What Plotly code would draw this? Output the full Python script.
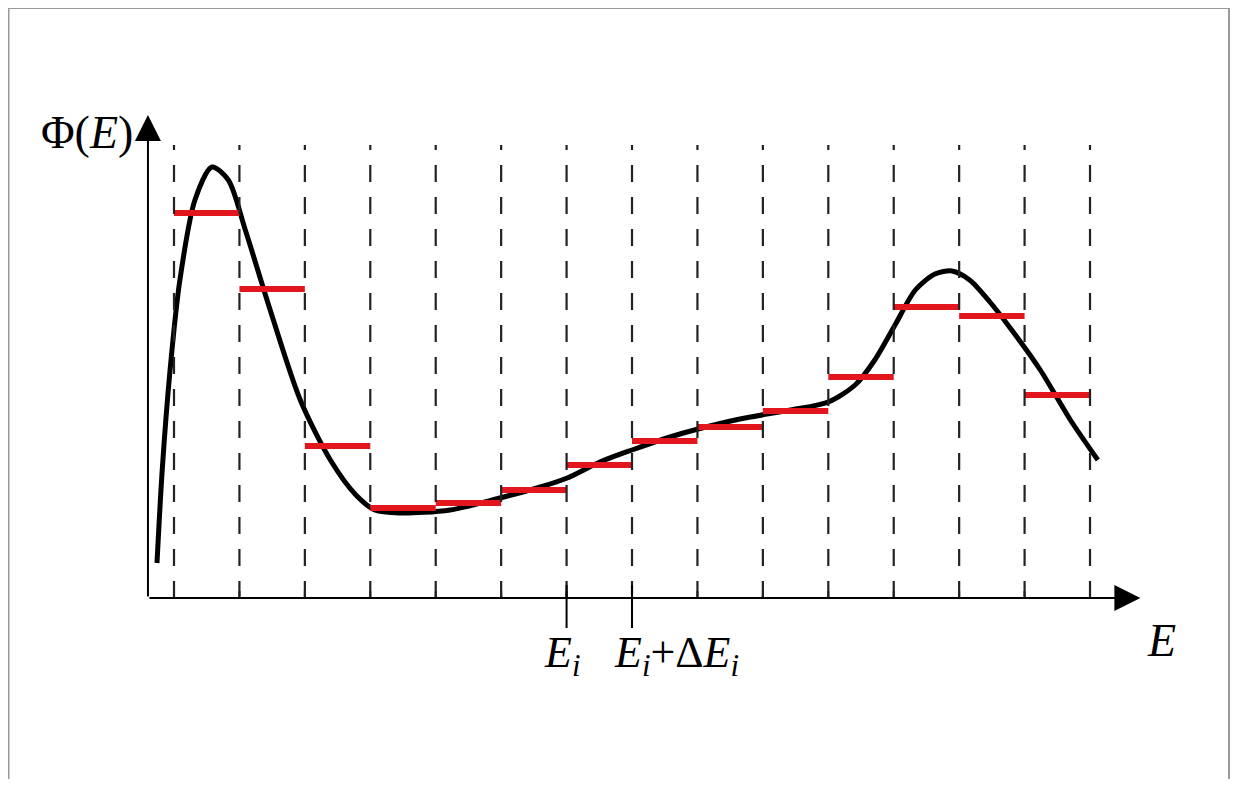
import plotly.graph_objects as go

# ---- data (x in bin units, y in arbitrary flux units) ----
bin_edges = list(range(0, 15))                      # 15 dashed boundaries
bin_levels = [3.85, 3.09, 1.52, 0.90, 0.95, 1.08, 1.33, 1.57, 1.71, 1.87, 2.21, 2.91, 2.82, 2.03]
curve_x = [-0.26, -0.18, -0.06, 0.09, 0.32, 0.58, 0.83, 1.09, 1.47, 1.93, 2.39, 2.78, 3.07, 3.45,
           4.22, 4.98, 5.60, 6.01, 6.51, 7.00, 7.58, 8.01, 8.65, 9.42, 10.00, 10.41, 10.71, 11.02,
           11.33, 11.63, 11.89, 12.16, 12.47, 12.78, 13.24, 13.70, 14.12]
curve_y = [0.35, 1.28, 2.28, 3.18, 3.98, 4.31, 4.18, 3.68, 2.88, 1.98, 1.38, 1.03, 0.88, 0.85,
           0.88, 1.00, 1.11, 1.20, 1.36, 1.48, 1.61, 1.69, 1.79, 1.88, 1.96, 2.13, 2.38, 2.73,
           3.08, 3.24, 3.27, 3.18, 2.96, 2.70, 2.28, 1.78, 1.38]
ei_index = 6
y_label = "Φ(<i>E</i>)"
x_label = "<i>E</i>"
tick_labels = ["<i>E<sub>i</sub></i>", "<i>E<sub>i</sub></i>+Δ<i>E<sub>i</sub></i>"]

# the page body has an 8px margin, so the figure is sized to fit inside the window
OFF = 8
W, H = 1238 - 2 * OFF, 787 - 2 * OFF
x_origin = -0.398
serif = "Liberation Serif, Times New Roman, serif"

fig = go.Figure()

# dashed bin boundaries
for e in bin_edges:
    fig.add_shape(type="line", x0=e, x1=e, y0=0, y1=4.53, xref="x", yref="y",
                  line=dict(color="#222222", width=2.2, dash="17px,15px"))
    fig.add_shape(type="line", x0=e, x1=e, y0=0, y1=0.07, xref="x", yref="y",
                  line=dict(color="#222222", width=2))

# long ticks for E_i and E_i+dE_i
for k in (ei_index, ei_index + 1):
    fig.add_shape(type="line", x0=k, x1=k, y0=0.13, y1=-0.30, xref="x", yref="y",
                  line=dict(color="black", width=2))

# smooth curve
fig.add_trace(go.Scatter(x=curve_x, y=curve_y, mode="lines",
                         line=dict(color="black", width=5, shape="spline", smoothing=0.8),
                         hoverinfo="skip", showlegend=False))

# red bin averages
rx, ry = [], []
for i, v in enumerate(bin_levels):
    rx += [bin_edges[i], bin_edges[i + 1], None]
    ry += [v, v, None]
fig.add_trace(go.Scatter(x=rx, y=ry, mode="lines",
                         line=dict(color="#e3161d", width=6),
                         hoverinfo="skip", showlegend=False))

# axes with arrows
fig.add_annotation(x=14.77, y=0, ax=x_origin, ay=0, xref="x", yref="y", axref="x", ayref="y",
                   showarrow=True, arrowhead=2, arrowsize=2.6, arrowwidth=2, arrowcolor="black", text="")
fig.add_annotation(x=x_origin, y=4.83, ax=x_origin, ay=0, xref="x", yref="y", axref="x", ayref="y",
                   showarrow=True, arrowhead=2, arrowsize=2.6, arrowwidth=2, arrowcolor="black", text="")

# labels
fig.add_annotation(x=x_origin - 0.2, y=4.66, xref="x", yref="y", text=y_label, showarrow=False,
                   xanchor="right", yanchor="middle", font=dict(family=serif, size=46, color="black"))
fig.add_annotation(x=15.10, y=-0.42, xref="x", yref="y", text=x_label, showarrow=False,
                   xanchor="center", yanchor="middle", font=dict(family=serif, size=46, color="black"))
fig.add_annotation(x=5.93, y=-0.57, xref="x", yref="y", text=tick_labels[0], showarrow=False,
                   xanchor="center", yanchor="middle", font=dict(family=serif, size=44, color="black"))
fig.add_annotation(x=6.69, y=-0.57, xref="x", yref="y", text=tick_labels[1], showarrow=False,
                   xanchor="left", yanchor="middle", font=dict(family=serif, size=44, color="black"))

# outer frame (right edge at the page edge, bottom below view)
fig.add_shape(type="rect", xref="paper", yref="paper",
              x0=0.5 / W, x1=(W - 1) / W, y0=-0.02, y1=1,
              line=dict(color="#9a9a9a", width=2))

fig.update_layout(
    width=W, height=H, autosize=False,
    margin=dict(l=0, r=0, t=0, b=0),
    paper_bgcolor="white", plot_bgcolor="white",
    xaxis=dict(range=[(OFF - 174) / 65.43, (OFF + W - 174) / 65.43], visible=False, fixedrange=True),
    yaxis=dict(range=[(598 - (OFF + H)) / 100, (598 - OFF) / 100], visible=False, fixedrange=True),
)

fig.write_html("out.html")
